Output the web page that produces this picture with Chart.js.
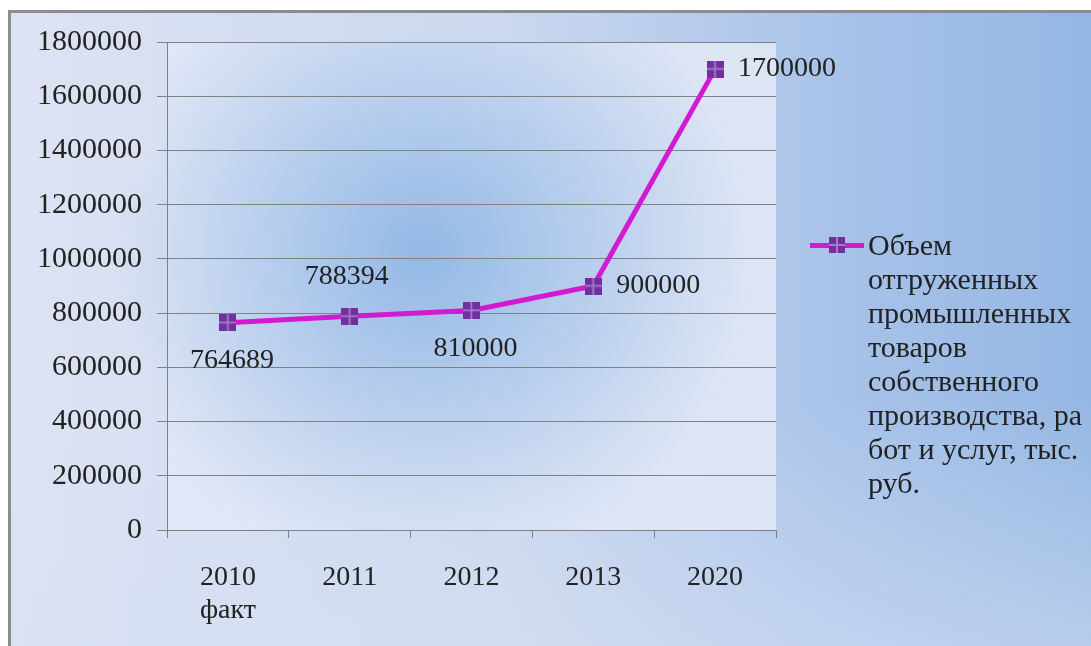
<!DOCTYPE html>
<html>
<head>
<meta charset="utf-8">
<script src="https://cdn.jsdelivr.net/npm/chart.js@4/dist/chart.umd.min.js"></script>
<style>
  html, body { margin: 0; padding: 0; background: #fff; }
  body { width: 1091px; height: 646px; position: relative; overflow: hidden; }
  .frame {
    position: absolute; left: 8px; top: 10px; right: -10px; bottom: -10px;
    border-left: 3px solid #8a8c90; border-top: 3px solid #8a8c90;
    background:
      radial-gradient(ellipse 320px 230px at 420px 250px, rgba(140,178,228,0.75), rgba(140,178,228,0) 100%),
      linear-gradient(to right, #dde3f3 0%, #cbd8ef 45%, #a9c3e9 75%, #93b6e3 100%);
  }
  .frame::after {
    content: ''; position: absolute; left: 0; right: 0; bottom: 0; height: 260px;
    background: linear-gradient(to bottom, rgba(220,228,244,0), rgba(215,225,243,0.55));
  }
  #chart { position: absolute; left: 0; top: 0; }
  .legend {
    position: absolute; left: 810px; top: 228px;
    font-family: "Liberation Serif", "Times New Roman", serif;
    font-size: 30px; line-height: 34px; color: #222;
    display: flex;
  }
  .legend .key { position: relative; width: 57px; height: 34px; flex: none; }
  .legend .key .ln { position: absolute; left: 0; top: 15px; width: 54px; height: 5px; background: #d21ad0; }
  .legend .key .sq { position: absolute; left: 19px; top: 9px; width: 16px; height: 16px; background: #7030a0; }
  .legend .key .sq::before { content: ''; position: absolute; left: 7px; top: 0; width: 2px; height: 16px; background: #a57cc4; }
  .legend .key .sq::after { content: ''; position: absolute; left: 0; top: 7px; width: 16px; height: 2px; background: #a57cc4; }
  .legend .txt { white-space: pre; margin-left: 1px; }
</style>
</head>
<body>
<div class="frame"></div>
<canvas id="chart" width="1091" height="646"></canvas>
<div class="legend">
  <div class="key"><div class="ln"></div><div class="sq"></div></div>
  <div class="txt" id="legend-text"></div>
</div>
<script>
const categories = [['2010', 'факт'], '2011', '2012', '2013', '2020'];
const volumes = [764689, 788394, 810000, 900000, 1700000];
const yTicks = [0, 200000, 400000, 600000, 800000, 1000000, 1200000, 1400000, 1600000, 1800000];
const labelPlacement = ['below', 'above', 'below', 'right', 'right'];
const seriesName = 'Объем\nотгруженных\nпромышленных\nтоваров\nсобственного\nпроизводства, ра\nбот и услуг, тыс.\nруб.';

document.getElementById('legend-text').textContent = seriesName;

const FONT = '"Liberation Serif", "Times New Roman", serif';

// marker: purple square split by a light cross
function makeMarker() {
  const c = document.createElement('canvas');
  c.width = 17; c.height = 17;
  const g = c.getContext('2d');
  g.fillStyle = '#7030a0';
  g.fillRect(0, 0, 17, 17);
  g.fillStyle = '#a57cc4';
  g.fillRect(7.5, 0, 1.8, 17);
  g.fillRect(0, 7.5, 17, 1.8);
  return c;
}

// lighter radial backdrop inside the plot area
const plotBackground = {
  id: 'plotBackground',
  beforeDraw(chart) {
    const { ctx, chartArea: a } = chart;
    const cx = a.left + (a.right - a.left) * 0.42;
    const cy = a.top + (a.bottom - a.top) * 0.43;
    const grad = ctx.createRadialGradient(cx, cy, 10, cx, cy, 330);
    grad.addColorStop(0, 'rgba(148,185,230,0.95)');
    grad.addColorStop(0.55, 'rgba(190,210,238,0.85)');
    grad.addColorStop(1, 'rgba(226,232,246,0.9)');
    ctx.save();
    ctx.fillStyle = grad;
    ctx.fillRect(a.left, a.top, a.right - a.left, a.bottom - a.top);
    ctx.restore();
  }
};

// value labels next to each point
const valueLabels = {
  id: 'valueLabels',
  afterDatasetsDraw(chart) {
    const { ctx } = chart;
    const meta = chart.getDatasetMeta(0);
    ctx.save();
    ctx.font = '28px ' + FONT;
    ctx.fillStyle = '#222';
    ctx.textBaseline = 'middle';
    meta.data.forEach((pt, i) => {
      const text = String(volumes[i]);
      const pos = labelPlacement[i];
      if (pos === 'right') {
        ctx.textAlign = 'left';
        ctx.fillText(text, pt.x + 23, pt.y);
      } else if (pos === 'above') {
        ctx.textAlign = 'center';
        ctx.fillText(text, pt.x - 3, pt.y - 40);
      } else {
        ctx.textAlign = 'center';
        ctx.fillText(text, pt.x + 4, pt.y + 38);
      }
    });
    ctx.restore();
  }
};

new Chart(document.getElementById('chart'), {
  type: 'line',
  data: {
    labels: categories,
    datasets: [{
      label: seriesName,
      data: volumes,
      borderColor: '#d21ad0',
      borderWidth: 5,
      tension: 0,
      pointStyle: makeMarker(),
      pointRadius: 8,
      pointHoverRadius: 8
    }]
  },
  options: {
    responsive: false,
    animation: false,
    layout: { padding: { left: 0, top: 42, right: 315, bottom: 0 } },
    plugins: {
      legend: { display: false },
      tooltip: { enabled: false }
    },
    scales: {
      x: {
        offset: true,
        grid: { display: true, offset: true, drawOnChartArea: false, tickLength: 8, color: '#7f8185' },
        border: { color: '#7f8185', width: 1 },
        ticks: { color: '#222', font: { family: FONT, size: 28, lineHeight: 1.15 }, padding: 24, maxRotation: 0 },
        afterFit: s => { s.height = 116; }
      },
      y: {
        min: 0, max: 1800000,
        afterBuildTicks: s => { s.ticks = yTicks.map(v => ({ value: v })); },
        grid: { color: '#7f8185', tickLength: 10 },
        border: { color: '#7f8185', width: 1 },
        ticks: { color: '#222', font: { family: FONT, size: 30 }, padding: 15, callback: v => String(v) },
        afterFit: s => { s.width = 167; }
      }
    }
  },
  plugins: [plotBackground, valueLabels]
});
</script>
</body>
</html>
